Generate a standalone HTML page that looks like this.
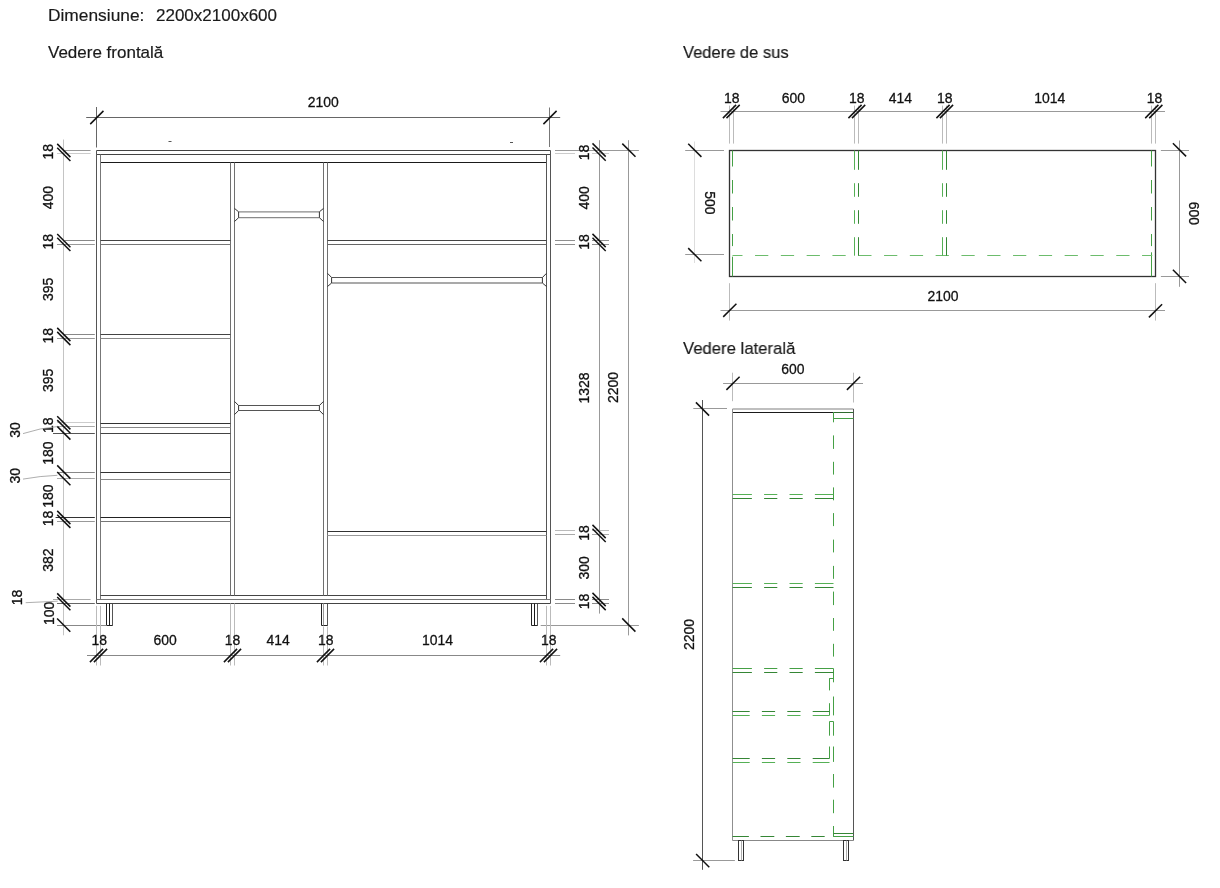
<!DOCTYPE html>
<html><head><meta charset="utf-8"><style>
html,body{margin:0;padding:0;background:#fff;}
body{width:1220px;height:888px;overflow:hidden;position:relative;font-family:"Liberation Sans",sans-serif;}
svg{position:absolute;left:0;top:0;will-change:transform;}
svg text{font-family:"Liberation Sans",sans-serif;stroke:#111;stroke-width:0.3px;}
.t{position:absolute;will-change:transform;font-family:"Liberation Sans",sans-serif;color:#1a1a1a;white-space:nowrap;line-height:1;-webkit-text-stroke:0.18px #1a1a1a;}
</style></head><body>
<div class="t" style="left:48px;top:6.6px;font-size:17px;transform:scaleX(1.02);transform-origin:0 0;">Dimensiune:</div>
<div class="t" style="left:156px;top:6.6px;font-size:17px;transform:scaleX(1.0);transform-origin:0 0;">2200x2100x600</div>
<div class="t" style="left:48px;top:43.6px;font-size:17px;transform:scaleX(1.0);transform-origin:0 0;">Vedere frontală</div>
<div class="t" style="left:683px;top:43.6px;font-size:17px;transform:scaleX(0.972);transform-origin:0 0;">Vedere de sus</div>
<div class="t" style="left:683px;top:339.6px;font-size:17px;transform:scaleX(0.982);transform-origin:0 0;">Vedere laterală</div>
<svg width="1220" height="888" viewBox="0 0 1220 888">
<line x1="96.5" y1="150.5" x2="550.5" y2="150.5" stroke="#444" stroke-width="1.0"/>
<line x1="96.5" y1="154.5" x2="550.5" y2="154.5" stroke="#444" stroke-width="1.0"/>
<line x1="100.5" y1="162.5" x2="546.5" y2="162.5" stroke="#1a1a1a" stroke-width="1.0"/>
<line x1="96.5" y1="150.5" x2="96.5" y2="603.5" stroke="#555" stroke-width="1.0"/>
<line x1="100.5" y1="154.5" x2="100.5" y2="599.5" stroke="#777" stroke-width="1.0"/>
<line x1="550.5" y1="150.5" x2="550.5" y2="603.5" stroke="#555" stroke-width="1.0"/>
<line x1="546.5" y1="154.5" x2="546.5" y2="599.5" stroke="#555" stroke-width="1.0"/>
<line x1="100.5" y1="595.5" x2="546.5" y2="595.5" stroke="#444" stroke-width="1.0"/>
<line x1="96.5" y1="599.5" x2="550.5" y2="599.5" stroke="#777" stroke-width="1.0"/>
<line x1="96.5" y1="603.5" x2="550.5" y2="603.5" stroke="#444" stroke-width="1.0"/>
<line x1="230.5" y1="162.5" x2="230.5" y2="595.5" stroke="#707070" stroke-width="1.0"/>
<line x1="234.5" y1="162.5" x2="234.5" y2="595.5" stroke="#707070" stroke-width="1.0"/>
<line x1="323.5" y1="162.5" x2="323.5" y2="595.5" stroke="#707070" stroke-width="1.0"/>
<line x1="327.5" y1="162.5" x2="327.5" y2="595.5" stroke="#707070" stroke-width="1.0"/>
<line x1="100.5" y1="240.5" x2="230.5" y2="240.5" stroke="#444" stroke-width="1.0"/>
<line x1="100.5" y1="244.5" x2="230.5" y2="244.5" stroke="#777" stroke-width="1.0"/>
<line x1="100.5" y1="334.5" x2="230.5" y2="334.5" stroke="#444" stroke-width="1.0"/>
<line x1="100.5" y1="338.5" x2="230.5" y2="338.5" stroke="#888" stroke-width="1.0"/>
<line x1="100.5" y1="423.5" x2="230.5" y2="423.5" stroke="#333" stroke-width="1.0"/>
<line x1="100.5" y1="427.5" x2="230.5" y2="427.5" stroke="#888" stroke-width="1.0"/>
<line x1="100.5" y1="433.5" x2="230.5" y2="433.5" stroke="#444" stroke-width="1.0"/>
<line x1="100.5" y1="472.5" x2="230.5" y2="472.5" stroke="#333" stroke-width="1.0"/>
<line x1="100.5" y1="479.5" x2="230.5" y2="479.5" stroke="#888" stroke-width="1.0"/>
<line x1="100.5" y1="517.5" x2="230.5" y2="517.5" stroke="#222" stroke-width="1.0"/>
<line x1="100.5" y1="521.5" x2="230.5" y2="521.5" stroke="#777" stroke-width="1.0"/>
<line x1="327.5" y1="240.5" x2="546.5" y2="240.5" stroke="#444" stroke-width="1.0"/>
<line x1="327.5" y1="244.5" x2="546.5" y2="244.5" stroke="#666" stroke-width="1.0"/>
<line x1="327.5" y1="531.5" x2="546.5" y2="531.5" stroke="#333" stroke-width="1.0"/>
<line x1="327.5" y1="535.5" x2="546.5" y2="535.5" stroke="#999" stroke-width="1.0"/>
<line x1="238.6" y1="211.8" x2="319.4" y2="211.8" stroke="#8a8a8a" stroke-width="1.3"/>
<line x1="238.6" y1="217.7" x2="319.4" y2="217.7" stroke="#8a8a8a" stroke-width="1.3"/>
<polyline points="234.5,208.4 238.6,211.8 238.6,217.7 234.5,221.5" fill="none" stroke="#333" stroke-width="1"/>
<polyline points="323.5,208.4 319.4,211.8 319.4,217.7 323.5,221.5" fill="none" stroke="#333" stroke-width="1"/>
<line x1="238.6" y1="405.5" x2="319.4" y2="405.5" stroke="#555" stroke-width="1.0"/>
<line x1="238.6" y1="410.5" x2="319.4" y2="410.5" stroke="#555" stroke-width="1.0"/>
<polyline points="234.5,401.4 238.6,405.5 238.6,410.5 234.5,414.6" fill="none" stroke="#333" stroke-width="1"/>
<polyline points="323.5,401.4 319.4,405.5 319.4,410.5 323.5,414.6" fill="none" stroke="#333" stroke-width="1"/>
<line x1="331.6" y1="277.5" x2="542.4" y2="277.5" stroke="#555" stroke-width="1.2"/>
<line x1="331.6" y1="283.0" x2="542.4" y2="283.0" stroke="#555" stroke-width="1.2"/>
<polyline points="327.5,273.3 331.6,277.5 331.6,283.0 327.5,286.5" fill="none" stroke="#333" stroke-width="1"/>
<polyline points="546.5,273.3 542.4,277.5 542.4,283.0 546.5,286.5" fill="none" stroke="#333" stroke-width="1"/>
<path d="M112.5,603.5 V625.5 H106.5 V603.5" fill="none" stroke="#222" stroke-width="1"/>
<line x1="112.5" y1="603.5" x2="112.5" y2="625.5" stroke="#555" stroke-width="1.0"/>
<line x1="109.5" y1="603.5" x2="109.5" y2="625.5" stroke="#1a1a1a" stroke-width="1.0"/>
<path d="M327.5,603.5 V625.5 H321.5 V603.5" fill="none" stroke="#222" stroke-width="1"/>
<line x1="327.5" y1="603.5" x2="327.5" y2="625.5" stroke="#555" stroke-width="1.0"/>
<line x1="323.5" y1="603.5" x2="323.5" y2="625.5" stroke="#999" stroke-width="1.0"/>
<path d="M537.5,603.5 V625.5 H531.5 V603.5" fill="none" stroke="#222" stroke-width="1"/>
<line x1="537.5" y1="603.5" x2="537.5" y2="625.5" stroke="#555" stroke-width="1.0"/>
<line x1="534.5" y1="603.5" x2="534.5" y2="625.5" stroke="#1a1a1a" stroke-width="1.0"/>
<line x1="168.5" y1="141.5" x2="171.5" y2="141.5" stroke="#555" stroke-width="1"/>
<line x1="510" y1="142.5" x2="513" y2="142.5" stroke="#555" stroke-width="1"/>
<line x1="86.2" y1="117.5" x2="560.2" y2="117.5" stroke="#666" stroke-width="1.0"/>
<line x1="96.5" y1="107" x2="96.5" y2="147.5" stroke="#666" stroke-width="1.0"/>
<line x1="549.5" y1="107.5" x2="549.5" y2="147" stroke="#777" stroke-width="1.0"/>
<line x1="90.25" y1="124.1" x2="103.45" y2="110.9" stroke="#111" stroke-width="1.5"/>
<line x1="543.4" y1="124.1" x2="556.6" y2="110.9" stroke="#111" stroke-width="1.5"/>
<text x="0" y="5.46" font-size="15.5" text-anchor="middle" fill="#111" transform="translate(323.2 101.1) scale(0.9 1)">2100</text>
<line x1="63.5" y1="139.5" x2="63.5" y2="635.3" stroke="#c4c4c4" stroke-width="1.0"/>
<line x1="64.5" y1="150.5" x2="90.6" y2="150.5" stroke="#999" stroke-width="1.0"/>
<line x1="57" y1="153.5" x2="90.6" y2="153.5" stroke="#ccc" stroke-width="1.0"/>
<line x1="64.5" y1="240.5" x2="94.8" y2="240.5" stroke="#888" stroke-width="1.0"/>
<line x1="57" y1="244.5" x2="94.8" y2="244.5" stroke="#999" stroke-width="1.0"/>
<line x1="64.5" y1="334.5" x2="94.8" y2="334.5" stroke="#888" stroke-width="1.0"/>
<line x1="57" y1="338.5" x2="94.8" y2="338.5" stroke="#999" stroke-width="1.0"/>
<line x1="57" y1="422.5" x2="94.8" y2="422.5" stroke="#ccc" stroke-width="1.0"/>
<line x1="57" y1="426.5" x2="94.8" y2="426.5" stroke="#aaa" stroke-width="1.0"/>
<line x1="53" y1="433.5" x2="94.8" y2="433.5" stroke="#555" stroke-width="1.0"/>
<line x1="57" y1="472.5" x2="94.8" y2="472.5" stroke="#888" stroke-width="1.0"/>
<line x1="57" y1="478.5" x2="94.8" y2="478.5" stroke="#aaa" stroke-width="1.0"/>
<line x1="55.6" y1="517.5" x2="94.8" y2="517.5" stroke="#333" stroke-width="1.0"/>
<line x1="57" y1="521.5" x2="94.8" y2="521.5" stroke="#999" stroke-width="1.0"/>
<line x1="53" y1="599.5" x2="90.6" y2="599.5" stroke="#aaa" stroke-width="1.0"/>
<line x1="57" y1="603.5" x2="94.8" y2="603.5" stroke="#666" stroke-width="1.0"/>
<line x1="57" y1="625.5" x2="106.5" y2="625.5" stroke="#888" stroke-width="1.0"/>
<line x1="57.2" y1="143.9" x2="70.4" y2="157.1" stroke="#111" stroke-width="1.5"/>
<line x1="57.2" y1="147.8" x2="70.4" y2="161.0" stroke="#111" stroke-width="1.5"/>
<line x1="57.2" y1="234.0" x2="70.4" y2="247.2" stroke="#111" stroke-width="1.5"/>
<line x1="57.2" y1="237.8" x2="70.4" y2="251.0" stroke="#111" stroke-width="1.5"/>
<line x1="57.2" y1="327.9" x2="70.4" y2="341.1" stroke="#111" stroke-width="1.5"/>
<line x1="57.2" y1="331.9" x2="70.4" y2="345.1" stroke="#111" stroke-width="1.5"/>
<line x1="57.2" y1="416.2" x2="70.4" y2="429.4" stroke="#111" stroke-width="1.5"/>
<line x1="57.2" y1="420.1" x2="70.4" y2="433.3" stroke="#111" stroke-width="1.5"/>
<line x1="57.2" y1="426.4" x2="70.4" y2="439.6" stroke="#111" stroke-width="1.5"/>
<line x1="57.2" y1="465.4" x2="70.4" y2="478.6" stroke="#111" stroke-width="1.5"/>
<line x1="57.2" y1="472.0" x2="70.4" y2="485.2" stroke="#111" stroke-width="1.5"/>
<line x1="57.2" y1="510.9" x2="70.4" y2="524.1" stroke="#111" stroke-width="1.5"/>
<line x1="57.2" y1="514.7" x2="70.4" y2="527.9" stroke="#111" stroke-width="1.5"/>
<line x1="57.2" y1="593.4" x2="70.4" y2="606.6" stroke="#111" stroke-width="1.5"/>
<line x1="57.2" y1="597.0" x2="70.4" y2="610.2" stroke="#111" stroke-width="1.5"/>
<line x1="57.1" y1="618.5" x2="70.3" y2="631.7" stroke="#111" stroke-width="1.5"/>
<text x="0" y="5.46" font-size="15.5" text-anchor="middle" fill="#111" transform="translate(47.7 151.7) rotate(-90) scale(0.9 1)">18</text>
<text x="0" y="5.46" font-size="15.5" text-anchor="middle" fill="#111" transform="translate(47.7 197.6) rotate(-90) scale(0.9 1)">400</text>
<text x="0" y="5.46" font-size="15.5" text-anchor="middle" fill="#111" transform="translate(47.7 241.7) rotate(-90) scale(0.9 1)">18</text>
<text x="0" y="5.46" font-size="15.5" text-anchor="middle" fill="#111" transform="translate(47.7 289.3) rotate(-90) scale(0.9 1)">395</text>
<text x="0" y="5.46" font-size="15.5" text-anchor="middle" fill="#111" transform="translate(47.7 335.8) rotate(-90) scale(0.9 1)">18</text>
<text x="0" y="5.46" font-size="15.5" text-anchor="middle" fill="#111" transform="translate(47.7 380.3) rotate(-90) scale(0.9 1)">395</text>
<text x="0" y="5.46" font-size="15.5" text-anchor="middle" fill="#111" transform="translate(47.7 425.20000000000005) rotate(-90) scale(0.9 1)">18</text>
<text x="0" y="5.46" font-size="15.5" text-anchor="middle" fill="#111" transform="translate(47.7 453.0) rotate(-90) scale(0.9 1)">180</text>
<text x="0" y="5.46" font-size="15.5" text-anchor="middle" fill="#111" transform="translate(47.7 496.0) rotate(-90) scale(0.9 1)">180</text>
<text x="0" y="5.46" font-size="15.5" text-anchor="middle" fill="#111" transform="translate(47.7 518.4) rotate(-90) scale(0.9 1)">18</text>
<text x="0" y="5.46" font-size="15.5" text-anchor="middle" fill="#111" transform="translate(47.7 560.1) rotate(-90) scale(0.9 1)">382</text>
<text x="0" y="5.46" font-size="15.5" text-anchor="middle" fill="#111" transform="translate(48.4 613.3) rotate(-90) scale(0.9 1)">100</text>
<text x="0" y="5.46" font-size="15.5" text-anchor="middle" fill="#111" transform="translate(14.5 429.9) rotate(-90) scale(0.9 1)">30</text>
<text x="0" y="5.46" font-size="15.5" text-anchor="middle" fill="#111" transform="translate(14.5 475.8) rotate(-90) scale(0.9 1)">30</text>
<text x="0" y="5.46" font-size="15.5" text-anchor="middle" fill="#111" transform="translate(16.7 597.4) rotate(-90) scale(0.9 1)">18</text>
<path d="M23,433.6 Q40,428 57.4,426.5" fill="none" stroke="#999" stroke-width="0.8"/>
<path d="M23,479.1 Q40,476 57.4,475.3" fill="none" stroke="#999" stroke-width="0.8"/>
<path d="M25.7,602.7 L57.7,601.2" fill="none" stroke="#999" stroke-width="0.8"/>
<line x1="599.5" y1="140.2" x2="599.5" y2="613.6" stroke="#999" stroke-width="1.0"/>
<line x1="555" y1="153.5" x2="575" y2="153.5" stroke="#ccc" stroke-width="1.0"/>
<line x1="592" y1="153.5" x2="609" y2="153.5" stroke="#ccc" stroke-width="1.0"/>
<line x1="555" y1="240.5" x2="575" y2="240.5" stroke="#8f8f8f" stroke-width="1.0"/>
<line x1="592" y1="240.5" x2="609" y2="240.5" stroke="#8f8f8f" stroke-width="1.0"/>
<line x1="555" y1="244.5" x2="575" y2="244.5" stroke="#8f8f8f" stroke-width="1.0"/>
<line x1="592" y1="244.5" x2="609" y2="244.5" stroke="#8f8f8f" stroke-width="1.0"/>
<line x1="555" y1="530.5" x2="575" y2="530.5" stroke="#bbb" stroke-width="1.0"/>
<line x1="592" y1="530.5" x2="609" y2="530.5" stroke="#bbb" stroke-width="1.0"/>
<line x1="555" y1="534.5" x2="575" y2="534.5" stroke="#aaa" stroke-width="1.0"/>
<line x1="592" y1="534.5" x2="609" y2="534.5" stroke="#aaa" stroke-width="1.0"/>
<line x1="555" y1="599.5" x2="575" y2="599.5" stroke="#8a8a8a" stroke-width="1.0"/>
<line x1="592" y1="599.5" x2="609" y2="599.5" stroke="#8a8a8a" stroke-width="1.0"/>
<line x1="555" y1="603.5" x2="575" y2="603.5" stroke="#8a8a8a" stroke-width="1.0"/>
<line x1="592" y1="603.5" x2="609" y2="603.5" stroke="#8a8a8a" stroke-width="1.0"/>
<line x1="555" y1="150.5" x2="609" y2="150.5" stroke="#999" stroke-width="1.0"/>
<line x1="592.5" y1="143.4" x2="605.7" y2="156.6" stroke="#111" stroke-width="1.5"/>
<line x1="592.5" y1="147.5" x2="605.7" y2="160.7" stroke="#111" stroke-width="1.5"/>
<line x1="592.5" y1="233.9" x2="605.7" y2="247.1" stroke="#111" stroke-width="1.5"/>
<line x1="592.5" y1="237.8" x2="605.7" y2="251.0" stroke="#111" stroke-width="1.5"/>
<line x1="592.5" y1="524.9" x2="605.7" y2="538.1" stroke="#111" stroke-width="1.5"/>
<line x1="592.5" y1="528.8" x2="605.7" y2="542.0" stroke="#111" stroke-width="1.5"/>
<line x1="592.5" y1="592.9" x2="605.7" y2="606.1" stroke="#111" stroke-width="1.5"/>
<line x1="592.5" y1="596.9" x2="605.7" y2="610.1" stroke="#111" stroke-width="1.5"/>
<text x="0" y="5.46" font-size="15.5" text-anchor="middle" fill="#111" transform="translate(583.4 152.5) rotate(-90) scale(0.9 1)">18</text>
<text x="0" y="5.46" font-size="15.5" text-anchor="middle" fill="#111" transform="translate(583.4 197.9) rotate(-90) scale(0.9 1)">400</text>
<text x="0" y="5.46" font-size="15.5" text-anchor="middle" fill="#111" transform="translate(583.4 241.9) rotate(-90) scale(0.9 1)">18</text>
<text x="0" y="5.46" font-size="15.5" text-anchor="middle" fill="#111" transform="translate(583.4 388.0) rotate(-90) scale(0.9 1)">1328</text>
<text x="0" y="5.46" font-size="15.5" text-anchor="middle" fill="#111" transform="translate(583.4 532.9) rotate(-90) scale(0.9 1)">18</text>
<text x="0" y="5.46" font-size="15.5" text-anchor="middle" fill="#111" transform="translate(583.4 567.9) rotate(-90) scale(0.9 1)">300</text>
<text x="0" y="5.46" font-size="15.5" text-anchor="middle" fill="#111" transform="translate(583.4 601.4) rotate(-90) scale(0.9 1)">18</text>
<line x1="628.5" y1="140.2" x2="628.5" y2="635.4" stroke="#999" stroke-width="1.0"/>
<line x1="609" y1="150.5" x2="638.9" y2="150.5" stroke="#999" stroke-width="1.0"/>
<line x1="540.7" y1="625.5" x2="638.9" y2="625.5" stroke="#999" stroke-width="1.0"/>
<line x1="622.3" y1="143.6" x2="635.5" y2="156.8" stroke="#111" stroke-width="1.5"/>
<line x1="622.2" y1="618.4" x2="635.4" y2="631.6" stroke="#111" stroke-width="1.5"/>
<text x="0" y="5.46" font-size="15.5" text-anchor="middle" fill="#111" transform="translate(612.7 387.6) rotate(-90) scale(0.9 1)">2200</text>
<line x1="87" y1="655.5" x2="560.2" y2="655.5" stroke="#888" stroke-width="1.0"/>
<line x1="96.5" y1="605.9" x2="96.5" y2="665.5" stroke="#bbb" stroke-width="1.0"/>
<line x1="100.5" y1="605.9" x2="100.5" y2="665.5" stroke="#bbb" stroke-width="1.0"/>
<line x1="230.5" y1="603.5" x2="230.5" y2="665.5" stroke="#bbb" stroke-width="1.0"/>
<line x1="234.5" y1="603.5" x2="234.5" y2="665.5" stroke="#bbb" stroke-width="1.0"/>
<line x1="323.5" y1="626.5" x2="323.5" y2="665.5" stroke="#bbb" stroke-width="1.0"/>
<line x1="327.5" y1="626.5" x2="327.5" y2="665.5" stroke="#bbb" stroke-width="1.0"/>
<line x1="546.5" y1="605.9" x2="546.5" y2="665.5" stroke="#bbb" stroke-width="1.0"/>
<line x1="550.5" y1="605.9" x2="550.5" y2="665.5" stroke="#bbb" stroke-width="1.0"/>
<line x1="89.9" y1="662.1" x2="103.1" y2="648.9" stroke="#111" stroke-width="1.5"/>
<line x1="93.9" y1="662.1" x2="107.1" y2="648.9" stroke="#111" stroke-width="1.5"/>
<line x1="223.9" y1="662.1" x2="237.1" y2="648.9" stroke="#111" stroke-width="1.5"/>
<line x1="227.9" y1="662.1" x2="241.1" y2="648.9" stroke="#111" stroke-width="1.5"/>
<line x1="316.9" y1="662.1" x2="330.1" y2="648.9" stroke="#111" stroke-width="1.5"/>
<line x1="320.9" y1="662.1" x2="334.1" y2="648.9" stroke="#111" stroke-width="1.5"/>
<line x1="539.9" y1="662.1" x2="553.1" y2="648.9" stroke="#111" stroke-width="1.5"/>
<line x1="543.9" y1="662.1" x2="557.1" y2="648.9" stroke="#111" stroke-width="1.5"/>
<text x="0" y="5.46" font-size="15.5" text-anchor="middle" fill="#111" transform="translate(99.2 639.5) scale(0.9 1)">18</text>
<text x="0" y="5.46" font-size="15.5" text-anchor="middle" fill="#111" transform="translate(165.2 639.5) scale(0.9 1)">600</text>
<text x="0" y="5.46" font-size="15.5" text-anchor="middle" fill="#111" transform="translate(232.4 639.5) scale(0.9 1)">18</text>
<text x="0" y="5.46" font-size="15.5" text-anchor="middle" fill="#111" transform="translate(278.2 639.5) scale(0.9 1)">414</text>
<text x="0" y="5.46" font-size="15.5" text-anchor="middle" fill="#111" transform="translate(325.7 639.5) scale(0.9 1)">18</text>
<text x="0" y="5.46" font-size="15.5" text-anchor="middle" fill="#111" transform="translate(437.4 639.5) scale(0.9 1)">1014</text>
<text x="0" y="5.46" font-size="15.5" text-anchor="middle" fill="#111" transform="translate(548.8 639.5) scale(0.9 1)">18</text>
<rect x="729.5" y="150.5" width="426" height="126" fill="none" stroke="#333" stroke-width="1.3"/>
<path d="M732.5,150.5L732.5,166.5 M732.5,180.0L732.5,193.5 M732.5,207.0L732.5,220.5 M732.5,234.0L732.5,246.1" stroke="#45a045" stroke-width="1.0" fill="none"/>
<path d="M732.5,256.7L732.5,276.5" stroke="#45a045" stroke-width="1" fill="none"/>
<path d="M1151.5,150.5L1151.5,166.5 M1151.5,180.0L1151.5,193.5 M1151.5,207.0L1151.5,220.5 M1151.5,234.0L1151.5,246.1" stroke="#45a045" stroke-width="1.0" fill="none"/>
<path d="M1151.5,252.3L1151.5,276.5" stroke="#45a045" stroke-width="1" fill="none"/>
<path d="M732.5,255.5L742.5,255.5 M755.05,255.5L768.3,255.5 M780.85,255.5L794.1,255.5 M806.65,255.5L819.9,255.5 M832.45,255.5L845.7,255.5 M858.25,255.5L871.5,255.5 M884.05,255.5L897.3,255.5 M909.85,255.5L923.1,255.5 M935.65,255.5L948.9,255.5 M961.45,255.5L974.7,255.5 M987.25,255.5L1000.5,255.5 M1013.05,255.5L1026.3,255.5 M1038.85,255.5L1052.1,255.5 M1064.65,255.5L1077.9,255.5 M1090.45,255.5L1103.7,255.5 M1116.25,255.5L1129.5,255.5 M1142.05,255.5L1152.3,255.5" stroke="#6cbc6c" stroke-width="1" fill="none"/>
<path d="M854.5,150.5L854.5,169.8 M854.5,183.2L854.5,196.8 M854.5,210.2L854.5,223.8 M854.5,237.2L854.5,255.7" stroke="#55b055" stroke-width="1.0" fill="none"/>
<path d="M858.5,150.5L858.5,169.8 M858.5,183.2L858.5,196.8 M858.5,210.2L858.5,223.8 M858.5,237.2L858.5,255.7" stroke="#358635" stroke-width="1.0" fill="none"/>
<path d="M942.5,150.5L942.5,169.8 M942.5,183.2L942.5,196.8 M942.5,210.2L942.5,223.8 M942.5,237.2L942.5,255.7" stroke="#55b055" stroke-width="1.0" fill="none"/>
<path d="M946.5,150.5L946.5,169.8 M946.5,183.2L946.5,196.8 M946.5,210.2L946.5,223.8 M946.5,237.2L946.5,255.7" stroke="#358635" stroke-width="1.0" fill="none"/>
<line x1="720.5" y1="111.5" x2="1165" y2="111.5" stroke="#999" stroke-width="1.0"/>
<line x1="729.5" y1="105.6" x2="729.5" y2="143.6" stroke="#bbb" stroke-width="1.0"/>
<line x1="733.5" y1="105.6" x2="733.5" y2="143.6" stroke="#bbb" stroke-width="1.0"/>
<line x1="854.5" y1="105.6" x2="854.5" y2="143.6" stroke="#bbb" stroke-width="1.0"/>
<line x1="858.5" y1="105.6" x2="858.5" y2="143.6" stroke="#bbb" stroke-width="1.0"/>
<line x1="942.5" y1="105.6" x2="942.5" y2="143.6" stroke="#bbb" stroke-width="1.0"/>
<line x1="946.5" y1="105.6" x2="946.5" y2="143.6" stroke="#bbb" stroke-width="1.0"/>
<line x1="1151.5" y1="105.6" x2="1151.5" y2="143.6" stroke="#bbb" stroke-width="1.0"/>
<line x1="1155.5" y1="105.6" x2="1155.5" y2="143.6" stroke="#bbb" stroke-width="1.0"/>
<line x1="722.9" y1="118.1" x2="736.1" y2="104.9" stroke="#111" stroke-width="1.5"/>
<line x1="726.5" y1="118.1" x2="739.7" y2="104.9" stroke="#111" stroke-width="1.5"/>
<line x1="848.4" y1="118.1" x2="861.6" y2="104.9" stroke="#111" stroke-width="1.5"/>
<line x1="852.0" y1="118.1" x2="865.2" y2="104.9" stroke="#111" stroke-width="1.5"/>
<line x1="936.4" y1="118.1" x2="949.6" y2="104.9" stroke="#111" stroke-width="1.5"/>
<line x1="939.9" y1="118.1" x2="953.1" y2="104.9" stroke="#111" stroke-width="1.5"/>
<line x1="1145.2" y1="118.1" x2="1158.4" y2="104.9" stroke="#111" stroke-width="1.5"/>
<line x1="1149.2" y1="118.1" x2="1162.4" y2="104.9" stroke="#111" stroke-width="1.5"/>
<text x="0" y="5.46" font-size="15.5" text-anchor="middle" fill="#111" transform="translate(731.8 97.2) scale(0.9 1)">18</text>
<text x="0" y="5.46" font-size="15.5" text-anchor="middle" fill="#111" transform="translate(793.3 97.2) scale(0.9 1)">600</text>
<text x="0" y="5.46" font-size="15.5" text-anchor="middle" fill="#111" transform="translate(856.8 97.2) scale(0.9 1)">18</text>
<text x="0" y="5.46" font-size="15.5" text-anchor="middle" fill="#111" transform="translate(900.4 97.2) scale(0.9 1)">414</text>
<text x="0" y="5.46" font-size="15.5" text-anchor="middle" fill="#111" transform="translate(944.7 97.2) scale(0.9 1)">18</text>
<text x="0" y="5.46" font-size="15.5" text-anchor="middle" fill="#111" transform="translate(1049.7 97.2) scale(0.9 1)">1014</text>
<text x="0" y="5.46" font-size="15.5" text-anchor="middle" fill="#111" transform="translate(1154.4 97.2) scale(0.9 1)">18</text>
<line x1="694.5" y1="141.5" x2="694.5" y2="263" stroke="#ddd" stroke-width="1.0"/>
<line x1="685.2" y1="150.5" x2="724" y2="150.5" stroke="#999" stroke-width="1.0"/>
<line x1="685.2" y1="254.5" x2="724" y2="254.5" stroke="#999" stroke-width="1.0"/>
<line x1="688.2" y1="143.7" x2="701.4" y2="156.9" stroke="#111" stroke-width="1.5"/>
<line x1="688.2" y1="248.1" x2="701.4" y2="261.3" stroke="#111" stroke-width="1.5"/>
<text x="0" y="5.46" font-size="15.5" text-anchor="middle" fill="#111" transform="translate(710.3 202.8) rotate(90) scale(0.9 1)">500</text>
<line x1="1179.5" y1="140.5" x2="1179.5" y2="286.8" stroke="#999" stroke-width="1.0"/>
<line x1="1160.9" y1="150.5" x2="1189" y2="150.5" stroke="#999" stroke-width="1.0"/>
<line x1="1160.9" y1="276.5" x2="1189" y2="276.5" stroke="#999" stroke-width="1.0"/>
<line x1="1172.9" y1="143.2" x2="1186.1" y2="156.4" stroke="#111" stroke-width="1.5"/>
<line x1="1172.9" y1="269.8" x2="1186.1" y2="283.0" stroke="#111" stroke-width="1.5"/>
<text x="0" y="5.46" font-size="15.5" text-anchor="middle" fill="#111" transform="translate(1194.9 213.3) rotate(90) scale(0.9 1)">600</text>
<line x1="720.5" y1="310.5" x2="1165" y2="310.5" stroke="#999" stroke-width="1.0"/>
<line x1="729.5" y1="283.2" x2="729.5" y2="320.6" stroke="#bbb" stroke-width="1.0"/>
<line x1="1155.5" y1="283.2" x2="1155.5" y2="320.6" stroke="#bbb" stroke-width="1.0"/>
<line x1="723.2" y1="316.9" x2="736.4" y2="303.7" stroke="#111" stroke-width="1.5"/>
<line x1="1148.9" y1="317.4" x2="1162.1" y2="304.2" stroke="#111" stroke-width="1.5"/>
<text x="0" y="5.46" font-size="15.5" text-anchor="middle" fill="#111" transform="translate(943 296) scale(0.9 1)">2100</text>
<line x1="732.5" y1="409" x2="853.5" y2="409" stroke="#aaa" stroke-width="1.3"/>
<line x1="732.5" y1="412.5" x2="833.5" y2="412.5" stroke="#1a1a1a" stroke-width="1.0"/>
<line x1="732.5" y1="409" x2="732.5" y2="840.5" stroke="#8f8f8f" stroke-width="1.0"/>
<line x1="853.5" y1="409" x2="853.5" y2="840.5" stroke="#555" stroke-width="1.0"/>
<line x1="732.5" y1="840.5" x2="853.5" y2="840.5" stroke="#888" stroke-width="1.0"/>
<line x1="833.5" y1="412.5" x2="853.5" y2="412.5" stroke="#2f6a2f" stroke-width="1.0"/>
<line x1="833.5" y1="418.5" x2="853.5" y2="418.5" stroke="#45a045" stroke-width="1.0"/>
<path d="M833.5,412L833.5,422.3 M833.5,435.4L833.5,448.9 M833.5,461.8L833.5,474.6 M833.5,487.4L833.5,500.3 M833.5,513.1L833.5,526.1 M833.5,539.6L833.5,552.4 M833.5,565.9L833.5,578.8 M833.5,591.6L833.5,605.1 M833.5,618L833.5,630.8 M833.5,643.8L833.5,656.6 M833.5,668.5L833.5,682.3 M833.5,696.5L833.5,715.4 M833.5,721.5L833.5,735.7 M833.5,746.5L833.5,761.9 M833.5,774L833.5,787.6 M833.5,799.7L833.5,813.2 M833.5,826L833.5,836.9" stroke="#45a045" stroke-width="1" fill="none"/>
<path d="M829.5,678.2L829.5,690.4 M829.5,703.2L829.5,715.4 M829.5,721.5L829.5,735.7 M829.5,746.5L829.5,758.5" stroke="#45a045" stroke-width="1" fill="none"/>
<path d="M829.5,678.5L833.5,678.5 M829.5,721.5L833.5,721.5" stroke="#45a045" stroke-width="1" fill="none"/>
<path d="M732.5,494.5L751.9,494.5 M764.1,494.5L777.3,494.5 M789.5,494.5L802.7,494.5 M814.9,494.5L833.5,494.5" stroke="#55b055" stroke-width="1.0" fill="none"/>
<path d="M732.5,498.5L751.9,498.5 M764.1,498.5L777.3,498.5 M789.5,498.5L802.7,498.5 M814.9,498.5L833.5,498.5" stroke="#358635" stroke-width="1.0" fill="none"/>
<path d="M732.5,583.5L751.9,583.5 M764.1,583.5L777.3,583.5 M789.5,583.5L802.7,583.5 M814.9,583.5L833.5,583.5" stroke="#55b055" stroke-width="1.0" fill="none"/>
<path d="M732.5,587.5L751.9,587.5 M764.1,587.5L777.3,587.5 M789.5,587.5L802.7,587.5 M814.9,587.5L833.5,587.5" stroke="#358635" stroke-width="1.0" fill="none"/>
<path d="M732.5,668.5L751.9,668.5 M764.1,668.5L777.3,668.5 M789.5,668.5L802.7,668.5 M814.9,668.5L833.5,668.5" stroke="#45a045" stroke-width="1.0" fill="none"/>
<path d="M732.5,672.5L751.9,672.5 M764.1,672.5L777.3,672.5 M789.5,672.5L802.7,672.5 M814.9,672.5L833.5,672.5" stroke="#358635" stroke-width="1.0" fill="none"/>
<path d="M732.5,711.5L749.7,711.5 M761.9,711.5L775.1,711.5 M787.3,711.5L800.5,711.5 M812.7,711.5L829.5,711.5" stroke="#358635" stroke-width="1.0" fill="none"/>
<path d="M732.5,715.5L749.7,715.5 M761.9,715.5L775.1,715.5 M787.3,715.5L800.5,715.5 M812.7,715.5L829.5,715.5" stroke="#55b055" stroke-width="1.0" fill="none"/>
<path d="M732.5,758.5L749.7,758.5 M761.9,758.5L775.1,758.5 M787.3,758.5L800.5,758.5 M812.7,758.5L829.5,758.5" stroke="#358635" stroke-width="1.0" fill="none"/>
<path d="M732.5,762.5L749.7,762.5 M761.9,762.5L775.1,762.5 M787.3,762.5L800.5,762.5 M812.7,762.5L829.5,762.5" stroke="#55b055" stroke-width="1.0" fill="none"/>
<path d="M732.5,836.5L748.9,836.5 M760.5,836.5L774.3,836.5 M785.9,836.5L799.7,836.5 M811.3,836.5L824.7,836.5" stroke="#358635" stroke-width="1.0" fill="none"/>
<line x1="833.5" y1="833.5" x2="853.5" y2="833.5" stroke="#358635" stroke-width="1.0"/>
<line x1="833.5" y1="836.5" x2="853.5" y2="836.5" stroke="#45a045" stroke-width="1.0"/>
<rect x="738.5" y="840.5" width="5.0" height="20" fill="none" stroke="#333" stroke-width="1"/>
<line x1="741.5" y1="840.5" x2="741.5" y2="860.5" stroke="#999" stroke-width="0.8"/>
<rect x="843.5" y="840.5" width="5.0" height="20" fill="none" stroke="#333" stroke-width="1"/>
<line x1="846.5" y1="840.5" x2="846.5" y2="860.5" stroke="#999" stroke-width="0.8"/>
<line x1="723.1" y1="383.5" x2="863" y2="383.5" stroke="#999" stroke-width="1.0"/>
<line x1="732.5" y1="372.7" x2="732.5" y2="401.2" stroke="#bbb" stroke-width="1.0"/>
<line x1="853.5" y1="372.7" x2="853.5" y2="402.5" stroke="#bbb" stroke-width="1.0"/>
<line x1="726.4" y1="389.9" x2="739.6" y2="376.7" stroke="#111" stroke-width="1.5"/>
<line x1="846.9" y1="389.9" x2="860.1" y2="376.7" stroke="#111" stroke-width="1.5"/>
<text x="0" y="5.46" font-size="15.5" text-anchor="middle" fill="#111" transform="translate(793 368.3) scale(0.9 1)">600</text>
<line x1="702.5" y1="400" x2="702.5" y2="869.8" stroke="#555" stroke-width="1.0"/>
<line x1="693.3" y1="408.5" x2="727" y2="408.5" stroke="#999" stroke-width="1.0"/>
<line x1="693.1" y1="860.5" x2="734.9" y2="860.5" stroke="#999" stroke-width="1.0"/>
<line x1="695.9" y1="402.4" x2="709.1" y2="415.6" stroke="#111" stroke-width="1.5"/>
<line x1="696.1" y1="854.0" x2="709.3" y2="867.2" stroke="#111" stroke-width="1.5"/>
<text x="0" y="5.46" font-size="15.5" text-anchor="middle" fill="#111" transform="translate(688.1 634.5) rotate(-90) scale(0.9 1)">2200</text>
</svg>
</body></html>
